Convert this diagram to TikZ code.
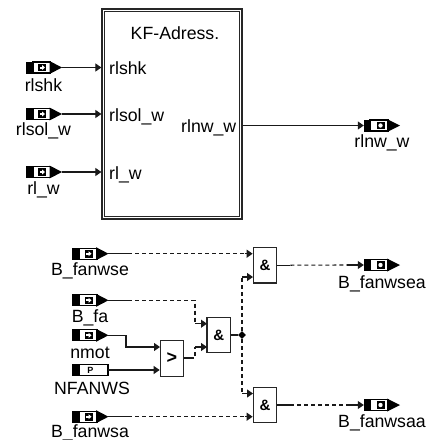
\documentclass[tikz,border=0pt]{standalone}
\usepackage{fontspec}
\setmainfont{Liberation Sans}
\usetikzlibrary{arrows.meta,shapes.geometric}
\tikzset{
  x=1pt,y=-1pt,
  lbl/.style={inner sep=0pt,font=\fontsize{17.7}{17.7}\selectfont,text=black},
  blk/.style={inner sep=0pt,font=\fontsize{17.7}{17.7}\selectfont,text=black,anchor=base west},
  wire/.style={draw=black!90,line width=1.1pt},
  sol/.style={wire,-{Triangle[length=6pt,width=8pt]}},
  dsh/.style={wire,dash pattern=on 4pt off 3pt},
  tipend/.style={-{Triangle[length=6pt,width=8pt]}},
  gate/.style={draw=black!85,line width=1.2pt,fill=white,minimum width=23.5pt,minimum height=35.5pt,inner sep=0pt,font=\fontsize{15}{15}\selectfont\bfseries},
  anch/.style={inner sep=0pt,minimum width=36pt,minimum height=12pt},
}
% name, centre x, centre y, label, label y
\newcommand{\portin}[5]{%
  \node[anch] (#1) at (#2,#3) {};
  \draw[black,line width=1.2pt,fill=white] ([xshift=-11pt]#1.center) ++(0,-5.5) rectangle ++(18,11);
  \fill[black] ([xshift=-18pt]#1.center) ++(0,-6) rectangle ++(8,12);
  \fill[black] ([xshift=6pt]#1.center) ++(0,-6.5) -- ++(12.5,6.5) -- ++(-12.5,6.5) -- cycle;
  \fill[black] ([xshift=-5.5pt]#1.center) ++(0,-3.8) rectangle ++(8,7.6);
  \fill[white] ([xshift=-4pt]#1.center) ++(0,-1) rectangle ++(2.5,2);
  \fill[white] ([xshift=-1.5pt]#1.center) ++(0,-2.6) -- ++(3,2.6) -- ++(-3,2.6) -- cycle;
  \node[lbl] (#1l) at (#2,#5) {#4};}
\newcommand{\portout}[5]{%
  \node[anch] (#1) at (#2,#3) {};
  \draw[black,line width=1.2pt,fill=white] ([xshift=-12pt]#1.center) ++(0,-5.5) rectangle ++(18,11);
  \fill[black] ([xshift=-18pt]#1.center) ++(0,-6) rectangle ++(6.5,12);
  \fill[black] ([xshift=5pt]#1.center) ++(0,-6.5) -- ++(13,6.5) -- ++(-13,6.5) -- cycle;
  \fill[black] ([xshift=-5.5pt]#1.center) ++(0,-3.8) rectangle ++(8,7.6);
  \fill[white] ([xshift=-1.5pt]#1.center) circle (2.2pt);
  \node[lbl] (#1l) at (#2,#5) {#4};}
\begin{document}
\begin{tikzpicture}
\useasboundingbox (0,0) rectangle (430,440);
\fill[white] (0,0) rectangle (430,440);
% KF block
\node[draw=black!85,line width=1.2pt,minimum width=140pt,minimum height=210pt,inner sep=0pt] (kf) at (172,114) {};
\node[draw=black!85,line width=1.1pt,minimum width=134.5pt,minimum height=204.5pt,inner sep=0pt] (kfi) at (172,114) {};
\node[lbl] (kft) at (175,33) {KF-Adress.};
\node[blk] (p1) at (109,74) {rlshk};
\node[blk] (p2) at (109,121) {rlsol\_w};
\node[blk] (p3) at (109,179) {rl\_w};
\node[blk] (p4) at (181,132) {rlnw\_w};
% upper ports
\portin{a}{43.5}{67.5}{rlshk}{85}
\portin{b}{43.5}{114}{rlsol\_w}{131}
\portin{c}{43.5}{172}{rl\_w}{190}
\portout{d}{382}{125.5}{rlnw\_w}{143}
\coordinate (ka) at (kf.west |- a);
\coordinate (kb) at (kf.west |- b);
\coordinate (kc) at (kf.west |- c);
\coordinate (kd) at (kf.east |- d);
\draw[sol] (a.east) -- (ka);
\draw[sol] (b.east) -- (kb);
\draw[sol] (c.east) -- (kc);
\draw[sol] (kd) -- (d.west);
% gates
\node[gate] (g1) at (265,265.2) {\&};
\node[gate] (g2) at (218.7,335) {\&};
\node[gate] (g3) at (265,405) {\&};
\node[gate,font=\fontsize{18}{18}\selectfont\bfseries] (cmp) at (172,358.4) {>};
% lower ports
\portin{e}{90}{253.7}{B\_fanwse}{271}
\portin{f}{90}{300.3}{B\_fa}{318}
\portin{g}{90}{335.3}{nmot}{353}
\node[anch] (h) at (90,370) {};
\draw[black,line width=1.2pt,fill=white] ([xshift=-11pt]h.center) ++(0,-5.5) rectangle ++(29,11);
\fill[black] (h.west) ++(0,-6) rectangle ++(8,12);
\node[inner sep=0pt,font=\fontsize{9}{9}\selectfont\bfseries] (hp) at (90.5,370) {P};
\node[lbl] (hl) at (92,388) {NFANWS};
\portin{i}{90}{416.7}{B\_fanwsa}{432.6}
\portout{j}{382}{265}{B\_fanwsea}{284}
\portout{k}{382}{405}{B\_fanwsaa}{423}
% junction
\node[diamond,fill=black,inner sep=0pt,minimum size=8pt] (jn) at (242,335) {};
% lower wires
\coordinate (g1a) at (g1.west |- e);
\coordinate (g1b) at (253,277);
\coordinate (g2a) at (207,323.7);
\coordinate (g2b) at (207,347);
\coordinate (g3a) at (253,393.5);
\coordinate (g3b) at (g3.west |- i);
\coordinate (ca) at (160,347);
\coordinate (cb) at (cmp.west |- h);
\coordinate (co) at (184,358);
% e -> g1
\draw[wire] (e.east) -- ++(20,0);
\draw[dsh] ([xshift=20pt]e.east) -- ([xshift=-8pt]g1a);
\draw[wire,tipend] ([xshift=-8pt]g1a) -- (g1a);
% f -> g2
\draw[wire] (f.east) -- ++(20,0);
\draw[dsh] ([xshift=20pt]f.east) -- (195,300.3) -- (195,323.7);
\draw[wire,tipend] (195,323.7) -- (g2a);
% g -> cmp
\draw[sol] (g.east) -- (126,335.3) -- (126,347) -- (ca);
% h -> cmp
\draw[sol] (h.east) -- (cb);
% cmp -> g2
\draw[wire] (co) -- (190,358);
\draw[dsh] (190,358) -- (195,358) -- (195,347);
\draw[wire,tipend] (195,347) -- (g2b);
% g2 -> junction
\draw[wire] (g2.east) -- (jn.west);
% junction -> g1, g3
\draw[dsh] (jn.north) -- (242,277);
\draw[wire,tipend] (242,277) -- (g1b);
\draw[dsh] (jn.south) -- (242,393.5);
\draw[wire,tipend] (242,393.5) -- (g3a);
% i -> g3
\draw[wire] (i.east) -- ++(20,0);
\draw[dsh] ([xshift=20pt]i.east) -- ([xshift=-8pt]g3b);
\draw[wire,tipend] ([xshift=-8pt]g3b) -- (g3b);
% g1 -> j, g3 -> k
\draw[wire] (g1.east) -- ++(13,0);
\draw[dsh] ([xshift=13pt]g1.east) -- (347,265);
\draw[wire,tipend] (347,265) -- (j.west);
\draw[wire] (g3.east) -- ++(13,0);
\draw[dsh] ([xshift=13pt]g3.east) -- (347,405);
\draw[wire,tipend] (347,405) -- (k.west);
\end{tikzpicture}
\end{document}
